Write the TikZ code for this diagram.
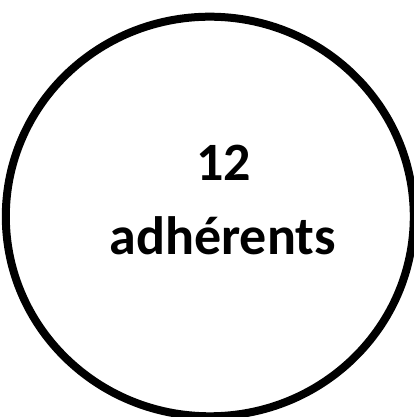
\documentclass[tikz,border=0pt]{standalone}
\usepackage{fontspec}
\setmainfont{Carlito}
\tikzset{
  ring/.style={draw=black, line width=8pt},
  label/.style={font=\fontsize{54}{64}\selectfont\bfseries, anchor=base, inner sep=0pt},
}
\begin{document}
\begin{tikzpicture}[x=1pt,y=1pt]
\useasboundingbox (0,0) rectangle (413,417);
\draw[ring] (209.8,200.5) ellipse [x radius=204, y radius=199.8];
\node[label] (num) at (223.5,236) {12};
\node[label] (word) at (222.7,162) {adhérents};
\end{tikzpicture}
\end{document}
